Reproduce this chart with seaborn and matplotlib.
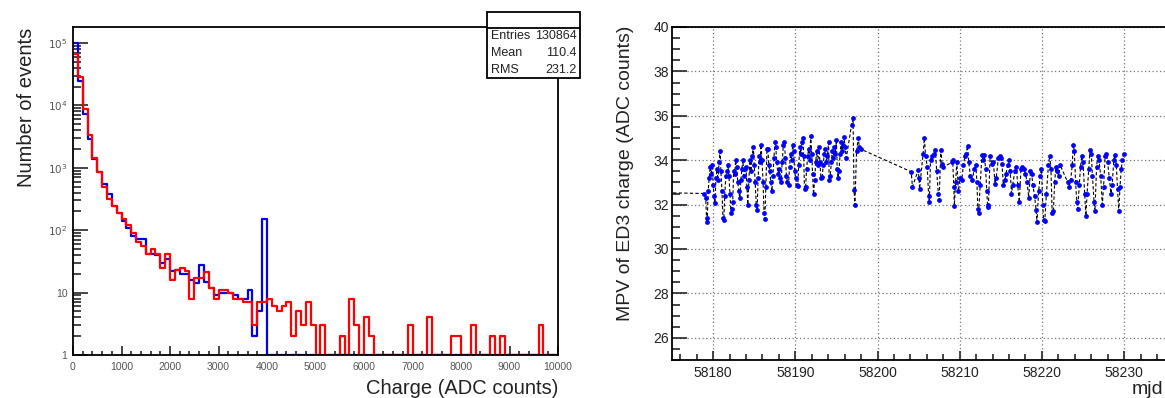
import numpy as np
import pandas as pd
import matplotlib
matplotlib.use('Agg')
import matplotlib.pyplot as plt
import seaborn as sns
from matplotlib.patches import Rectangle
from matplotlib.lines import Line2D
from matplotlib.ticker import FixedLocator, FixedFormatter, MultipleLocator, NullFormatter

# ---------------- data: left histogram (bins of 100 ADC, 0..10000) ----------------
red_counts = [66000, 28000, 8900, 3300, 1450, 870, 490, 320, 240, 190,
              150, 120, 90, 65, 56, 42, 50, 42, 25, 42,
              16, 23, 25, 22, 8, 17, 17, 21, 12, 8,
              11, 11, 10, 8, 8, 7, 7, 3, 7, 7,
              8, 6, 5, 6, 7, 2, 5, 3, 7, 3,
              1, 3, 0, 0, 0, 2, 0, 8, 3, 0,
              4, 2, 0, 0, 0, 0, 0, 0, 0, 3,
              0, 0, 0, 4, 0, 0, 0, 0, 2, 2,
              0, 0, 3, 0, 0, 0, 2, 0, 2, 0,
              0, 0, 0, 0, 0, 0, 3, 0, 0, 0]
blue_counts = [100000, 25000, 7400, 2900, 1400, 870, 550, 380, 240, 185,
               140, 110, 80, 72, 72, 42, 42, 40, 30, 35,
               22, 23, 20, 20, 16, 14, 28, 15, 12, 9,
               10, 10, 10, 9, 8, 8, 11, 2, 5, 150] + [0] * 60
stat_names = ["Entries", "Mean", "RMS"]
stat_values = ["130864", "110.4", "231.2"]
hist_xticks = [0, 1000, 2000, 3000, 4000, 5000, 6000, 7000, 8000, 9000, 10000]
hist_yticks = [1, 10, 100, 1000, 10000, 100000]
hist_ylabels = ["1", "10", "$10^{2}$", "$10^{3}$", "$10^{4}$", "$10^{5}$"]

# ---------------- data: right MPV vs mjd ----------------
mjd = [58165.00,
       58178.95, 58179.10, 58179.20, 58179.28, 58179.40, 58179.52, 58179.65, 58179.78, 58179.90,
       58180.00, 58180.12, 58180.22, 58180.35, 58180.48, 58180.60, 58180.72, 58180.85, 58180.95,
       58181.08, 58181.20, 58181.30, 58181.42, 58181.55, 58181.68, 58181.80, 58181.92,
       58182.05, 58182.18, 58182.25, 58182.38, 58182.50, 58182.62, 58182.75, 58182.88,
       58183.00, 58183.12, 58183.25, 58183.38, 58183.50, 58183.62, 58183.75, 58183.88,
       58184.00, 58184.12, 58184.22, 58184.35, 58184.48, 58184.60, 58184.75, 58184.90,
       58185.00, 58185.12, 58185.25, 58185.35, 58185.48, 58185.60, 58185.72, 58185.82, 58185.95,
       58186.08, 58186.20, 58186.30, 58186.42, 58186.55, 58186.65, 58186.78, 58186.90,
       58187.02, 58187.15, 58187.28, 58187.40, 58187.52, 58187.62, 58187.75, 58187.88,
       58188.00, 58188.12, 58188.28, 58188.40, 58188.55, 58188.68, 58188.80, 58188.92,
       58189.05, 58189.18, 58189.30, 58189.42, 58189.55, 58189.68, 58189.80, 58189.92,
       58190.05, 58190.18, 58190.30, 58190.42, 58190.55, 58190.68, 58190.80, 58190.92,
       58191.02, 58191.12, 58191.25, 58191.38, 58191.50, 58191.62, 58191.75, 58191.88,
       58192.00, 58192.10, 58192.22, 58192.35, 58192.48, 58192.60, 58192.72, 58192.88,
       58193.00, 58193.12, 58193.28, 58193.40, 58193.52, 58193.65, 58193.78, 58193.90,
       58194.05, 58194.12, 58194.25, 58194.38, 58194.50, 58194.62, 58194.75, 58194.88,
       58195.00, 58195.10, 58195.20, 58195.32, 58195.45, 58195.58, 58195.70, 58195.82, 58195.92,
       58196.05, 58196.20, 58196.85, 58197.02, 58197.15, 58197.25, 58197.45, 58197.65, 58197.80, 58197.95,
       58204.10, 58204.25, 58204.95, 58205.05, 58205.12, 58205.55, 58205.70, 58205.85,
       58206.05, 58206.22, 58206.30, 58206.45, 58206.60, 58206.85, 58207.05, 58207.20,
       58207.40, 58207.50, 58207.70, 58207.85, 58208.00,
       58209.05, 58209.15, 58209.28, 58209.35, 58209.50, 58209.65, 58209.85,
       58210.05, 58210.25, 58210.45, 58210.65, 58210.80, 58210.95, 58211.10, 58211.30,
       58211.55, 58211.75, 58211.95, 58212.10, 58212.20, 58212.30, 58212.50, 58212.70, 58212.85,
       58213.00, 58213.15, 58213.30, 58213.40, 58213.50, 58213.70, 58213.90,
       58214.10, 58214.30, 58214.45, 58214.70, 58214.85, 58215.00, 58215.15, 58215.30,
       58215.50, 58215.65, 58215.85, 58216.00, 58216.15, 58216.30, 58216.45, 58216.70, 58216.90,
       58217.05, 58217.25, 58217.45, 58217.60, 58217.80, 58218.00, 58218.20, 58218.40,
       58218.60, 58218.75, 58218.90, 58219.10, 58219.30, 58219.40, 58219.60, 58219.80, 58219.95,
       58220.10, 58220.20, 58220.35, 58220.55, 58220.80, 58220.95, 58221.10, 58221.25,
       58221.40, 58221.55, 58221.70, 58221.85, 58222.05, 58222.20,
       58223.15, 58223.30, 58223.50, 58223.70, 58223.80, 58223.95, 58224.10, 58224.25,
       58224.35, 58224.55, 58224.70, 58224.85, 58225.00, 58225.20, 58225.35, 58225.50,
       58225.70, 58225.85, 58226.00, 58226.15, 58226.35, 58226.45, 58226.65, 58226.80, 58226.95,
       58227.15, 58227.35, 58227.50, 58227.70, 58227.85, 58228.00, 58228.20, 58228.40,
       58228.55, 58228.75, 58228.90, 58229.05, 58229.20, 58229.35, 58229.50, 58229.65,
       58229.80, 58229.95]
mpv = [32.6,
       32.5, 32.3, 31.4, 31.2, 32.6, 33.2, 33.7, 33.4, 33.8,
       32.9, 32.4, 32.05, 33.2, 33.6, 33.1, 33.9, 34.4, 33.5,
       32.6, 31.4, 31.3, 32.4, 33.3, 33.5, 33.8, 33.3,
       32.5, 31.6, 31.8, 32.1, 33.5, 33.4, 34.0, 33.7,
       33.0, 32.6, 32.3, 33.1, 33.6, 34.0, 33.3, 33.6,
       33.7, 32.8, 32.0, 33.1, 34.0, 33.5, 34.2, 34.6,
       33.8, 33.0, 32.0, 31.75, 33.2, 34.2, 33.9, 34.7, 34.0,
       33.0, 31.6, 31.35, 32.8, 34.5, 34.5, 33.8, 33.5,
       33.0, 32.6, 33.3, 34.1, 34.8, 34.6, 33.9, 33.4,
       33.6, 33.2, 33.0, 33.9, 34.7, 34.8, 34.1, 33.3,
       33.0, 32.9, 33.7, 34.3, 34.0, 34.7, 34.4, 33.5,
       33.2, 32.9, 32.85, 33.8, 34.6, 34.3, 34.8, 35.0,
       34.2, 32.7, 32.8, 33.6, 34.2, 34.5, 34.0, 35.1,
       34.3, 33.4, 32.46, 33.1, 33.9, 34.4, 33.8, 34.6,
       33.9, 33.2, 33.26, 33.8, 34.3, 34.5, 33.9, 34.2,
       34.8, 33.1, 33.3, 33.9, 34.4, 34.1, 34.6, 34.3,
       34.9, 33.6, 33.2, 33.5, 34.3, 34.8, 34.4, 34.7, 35.05,
       34.6, 34.1, 35.6, 35.9, 32.65, 31.98, 34.4, 35.0, 34.6, 34.5,
       33.48, 32.8, 33.55, 33.2, 32.7, 34.3, 35.0, 34.2,
       33.7, 32.4, 32.1, 34.0, 34.2, 34.3, 34.45, 33.5,
       32.5, 32.2, 34.45, 33.85, 33.7,
       33.9, 34.0, 32.8, 31.95, 33.0, 33.9, 32.6,
       33.2, 33.1, 33.8, 34.2, 34.3, 34.65, 33.9, 33.3,
       33.1, 33.6, 33.8, 33.0, 31.8, 31.6, 32.9, 34.25, 34.0,
       34.25, 33.6, 32.6, 31.9, 32.0, 34.2, 33.85,
       33.9, 32.95, 33.2, 34.1, 34.17, 34.1, 33.85, 32.9,
       33.1, 33.4, 33.8, 34.0, 33.5, 32.5, 32.9, 33.5, 33.7,
       32.9, 32.1, 33.6, 33.7, 33.6, 33.4, 33.0, 32.3,
       33.5, 33.4, 32.9, 32.4, 31.75, 31.2, 32.6, 33.3, 33.6,
       32.0, 31.3, 31.25, 32.5, 33.8, 34.2, 33.6, 31.6,
       31.7, 33.0, 33.7, 33.5, 33.3, 33.8,
       33.0, 32.8, 33.1, 33.8, 34.7, 34.4, 33.0, 32.1,
       31.8, 32.9, 33.7, 34.2, 33.9, 32.5, 31.5, 32.5,
       33.6, 34.45, 34.3, 33.3, 32.1, 31.7, 33.7, 34.2, 34.0,
       33.3, 32.0, 32.8, 34.2, 34.3, 33.9, 33.2, 32.5,
       32.9, 34.0, 34.25, 33.8, 32.7, 31.7, 32.8, 33.6,
       34.0, 34.3]
mjd_ticks = [58180, 58190, 58200, 58210, 58220, 58230]
mpv_ticks = [26, 28, 30, 32, 34, 36, 38, 40]

# ---------------- figure ----------------
sns.set_theme(style="white")
plt.rcParams['font.family'] = ['Liberation Sans', 'DejaVu Sans']
W, H = 1165, 398
fig = plt.figure(figsize=(W / 100, H / 100), dpi=100)

def fx(px):
    return px / W

def fy(py):
    return 1 - py / H

# ----- left: histogram -----
axL = fig.add_axes([fx(73), fy(355), fx(558) - fx(73), fy(27) - fy(355)])
edges = np.linspace(0, 10000, 101)
centers = (edges[:-1] + edges[1:]) / 2
df_blue = pd.DataFrame({"charge": centers, "n": np.clip(blue_counts, 1, None)})
df_red = pd.DataFrame({"charge": centers, "n": np.clip(red_counts, 1, None)})
sns.histplot(data=df_blue, x="charge", weights="n", binwidth=100, binrange=(0, 10000),
             element="step", fill=False, color="#0000ee", linewidth=1.6, ax=axL)
sns.histplot(data=df_red, x="charge", weights="n", binwidth=100, binrange=(0, 10000),
             element="step", fill=False, color="#ff0000", linewidth=1.6, ax=axL)
axL.set_yscale("log")
axL.set_xlim(0, 10000)
axL.set_ylim(1, 1.8e5)
axL.set_xlabel("")
axL.set_ylabel("")
axL.xaxis.set_major_locator(FixedLocator(hist_xticks))
axL.xaxis.set_major_formatter(FixedFormatter([str(t) for t in hist_xticks]))
axL.xaxis.set_minor_locator(MultipleLocator(200))
axL.yaxis.set_major_locator(FixedLocator(hist_yticks))
axL.yaxis.set_major_formatter(FixedFormatter(hist_ylabels))
minors = [m * 10 ** d for d in range(0, 5) for m in range(2, 10)]
axL.yaxis.set_minor_locator(FixedLocator(minors))
axL.yaxis.set_minor_formatter(NullFormatter())
axL.tick_params(axis="x", which="major", direction="in", length=6.5, width=1.2,
                labelsize=7.5, labelcolor="#555555", pad=5, bottom=True, top=False)
axL.tick_params(axis="x", which="minor", direction="in", length=3.2, width=1.2, bottom=True, top=False)
axL.tick_params(axis="y", which="major", direction="in", length=10.5, width=1.2,
                labelsize=7.5, labelcolor="#555555", pad=4, left=True, right=False)
axL.tick_params(axis="y", which="minor", direction="in", length=5.5, width=1.2, left=True, right=False)
for s in axL.spines.values():
    s.set_color("black")
    s.set_linewidth(1.3)

# ----- right: MPV vs mjd -----
axR = fig.add_axes([fx(672), fy(360), 65 * 8.22 / W, fy(27) - fy(360)])
dfm = pd.DataFrame({"mjd": mjd, "mpv": mpv})
sns.lineplot(data=dfm, x="mjd", y="mpv", sort=False, estimator=None, color="black",
             linewidth=0.8, ax=axR)
axR.lines[0].set_dashes((3, 2))
sns.scatterplot(data=dfm, x="mjd", y="mpv", color="#0000ff", s=12, linewidth=0, ax=axR, zorder=3)
axR.set_xlim(58175, 58240)
axR.set_ylim(25, 40)
axR.set_xlabel("")
axR.set_ylabel("")
axR.xaxis.set_major_locator(FixedLocator(mjd_ticks))
axR.xaxis.set_major_formatter(FixedFormatter([str(t) for t in mjd_ticks]))
axR.xaxis.set_minor_locator(MultipleLocator(2))
axR.yaxis.set_major_locator(FixedLocator(mpv_ticks))
axR.yaxis.set_major_formatter(FixedFormatter([str(t) for t in mpv_ticks]))
axR.yaxis.set_minor_locator(MultipleLocator(0.5))
axR.grid(True, which="major", linestyle=(0, (1, 2)), color="#777777", linewidth=0.9)
axR.tick_params(axis="x", which="major", direction="in", length=6.5, width=1.2,
                labelsize=10, labelcolor="#222222", pad=4, bottom=True, top=False)
axR.tick_params(axis="x", which="minor", direction="in", length=4, width=1.2, bottom=True, top=False)
axR.tick_params(axis="y", which="major", direction="in", length=10.5, width=1.2,
                labelsize=10, labelcolor="#222222", pad=2, left=True, right=False)
axR.tick_params(axis="y", which="minor", direction="in", length=5.5, width=1.2, left=True, right=False)
for s in axR.spines.values():
    s.set_color("black")
    s.set_linewidth(1.3)

# ----- axis titles -----
fig.text(fx(27), fy(28), "Number of events", rotation=90, ha="center", va="top", fontsize=14.5, color="#222222")
fig.text(fx(558), fy(388), "Charge (ADC counts)", ha="right", va="center", fontsize=14.5, color="#222222")
fig.text(fx(626), fy(26), "MPV of ED3 charge (ADC counts)", rotation=90, ha="center", va="top",
         fontsize=14, color="#222222")
fig.text(fx(1163), fy(389), "mjd", ha="right", va="center", fontsize=14, color="#222222")

# ----- stats box -----
box_l, box_r, box_t, box_b, box_div = 487, 580, 12, 78, 28
fig.add_artist(Rectangle((fx(box_l), fy(box_b)), fx(box_r) - fx(box_l), fy(box_t) - fy(box_b),
                         transform=fig.transFigure, facecolor="white", edgecolor="black",
                         linewidth=1.3, zorder=10))
fig.add_artist(Line2D([fx(box_l), fx(box_r)], [fy(box_div), fy(box_div)], transform=fig.transFigure,
                      color="black", linewidth=1.3, zorder=11))
row_h = (box_b - box_div) / 3
for i, (k, v) in enumerate(zip(stat_names, stat_values)):
    yy = box_div + (i + 0.5) * row_h
    fig.text(fx(box_l + 4), fy(yy), k, ha="left", va="center", fontsize=9, color="#222222", zorder=12)
    fig.text(fx(box_r - 3), fy(yy), v, ha="right", va="center", fontsize=9, color="#222222", zorder=12)

fig.savefig("out.png", dpi=100)
